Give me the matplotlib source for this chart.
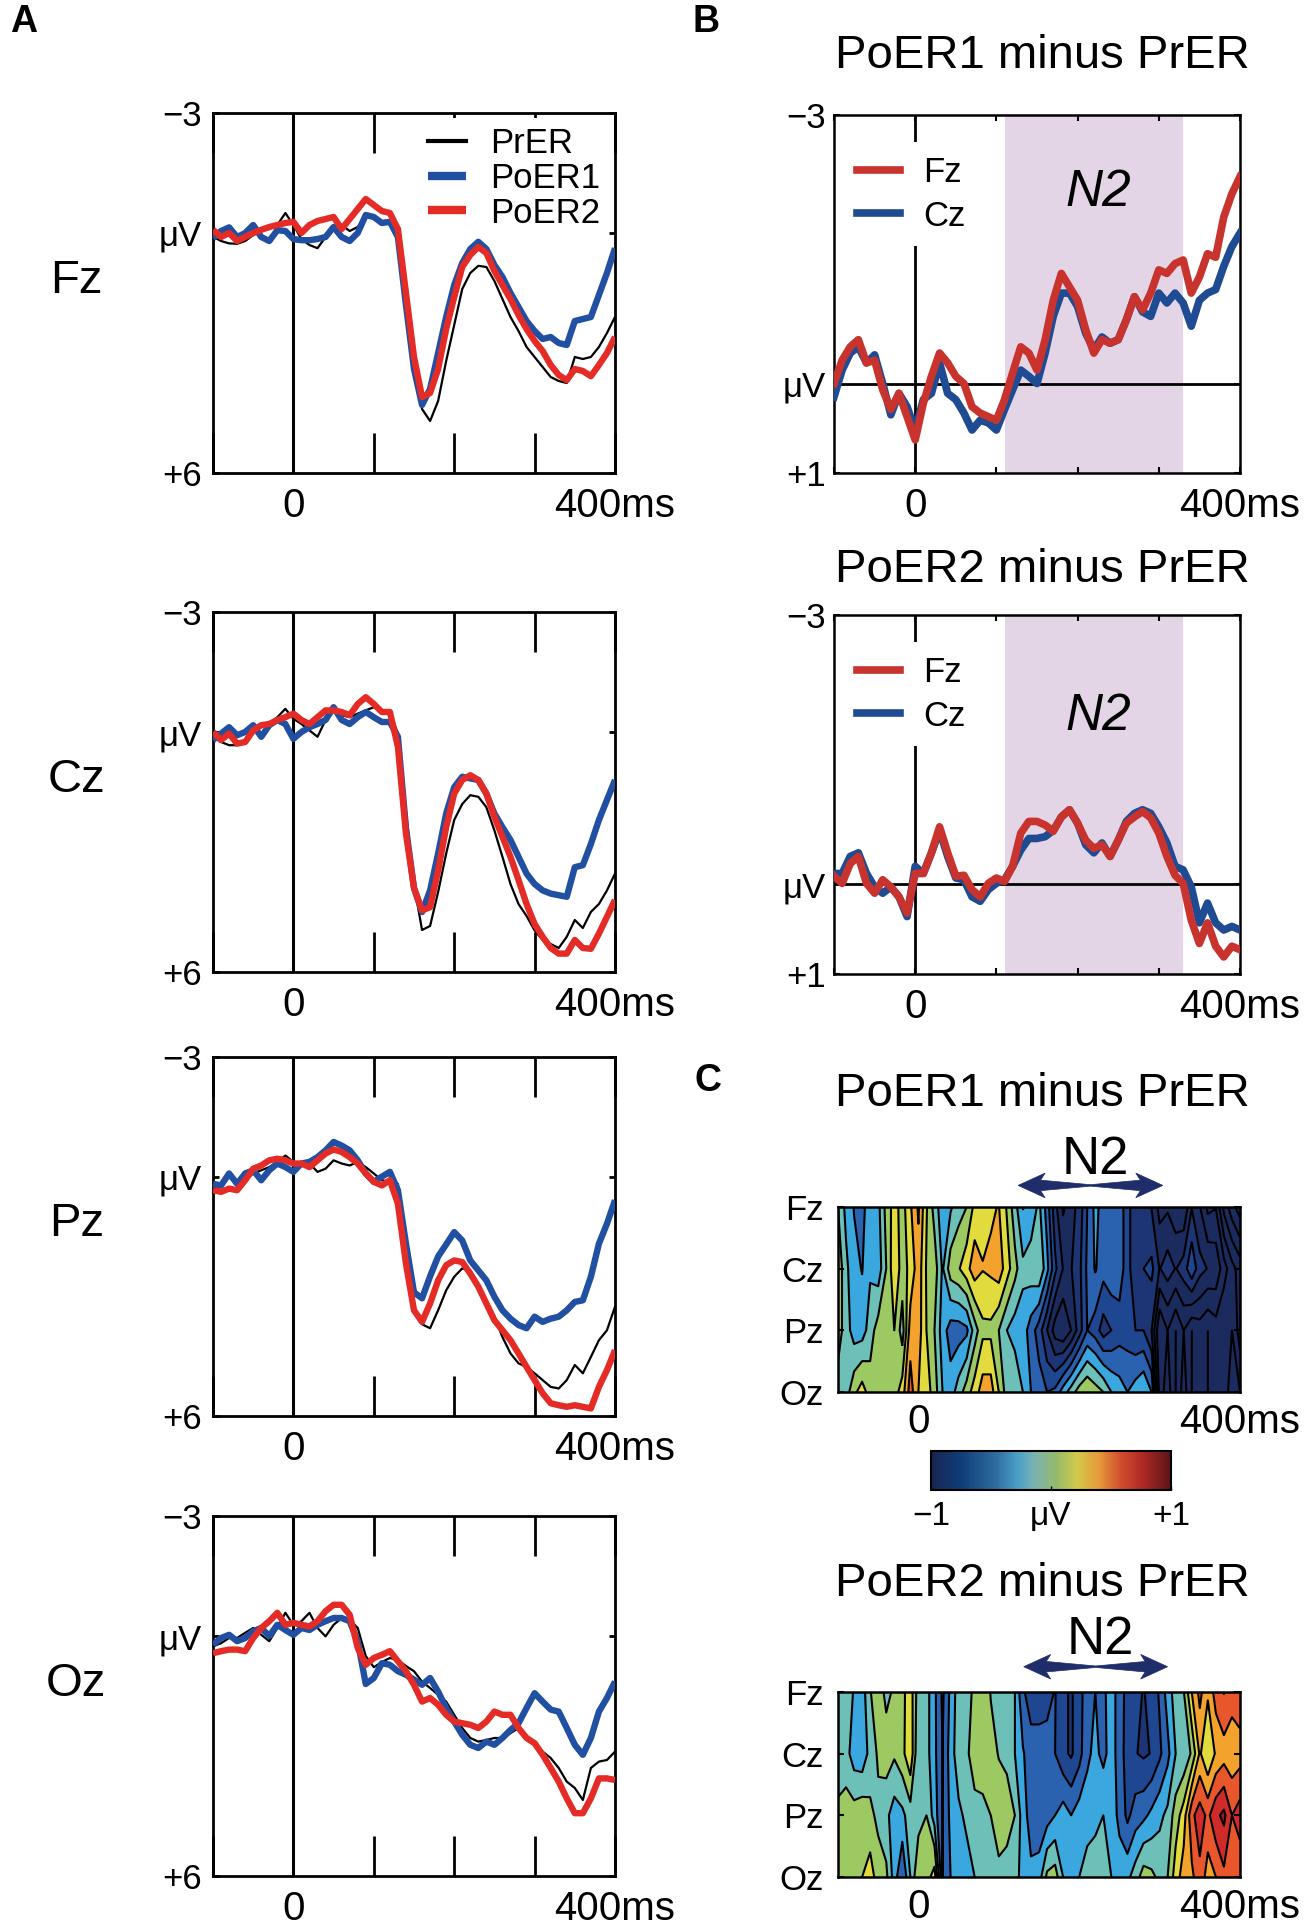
import numpy as np
import matplotlib
matplotlib.use('Agg')
import matplotlib.pyplot as plt
from matplotlib.colors import ListedColormap, BoundaryNorm, LinearSegmentedColormap, Normalize
from matplotlib.cm import ScalarMappable
from matplotlib.patches import Polygon

plt.rcParams['font.family'] = ['Liberation Sans', 'DejaVu Sans']

# time axis, ms (one sample every 10 ms)
t = np.arange(-100, 401, 10)

# ---- panel A: grand averages (uV, negative up) ----
fz_prer = [0.09, 0.2, 0.26, 0.27, 0.2, 0.05, -0.05, -0.1, -0.2, -0.5,
           -0.2, 0.15, 0.3, 0.38, 0.1, -0.1, -0.2, -0.05, -0.15, -0.45,
           -0.4, -0.3, -0.3, 0.0, 1.6, 3.2, 4.4, 4.7, 4.2, 3.2,
           2.3, 1.4, 1.0, 0.82, 0.85, 1.2, 1.65, 2.1, 2.45, 2.85,
           3.1, 3.35, 3.6, 3.7, 3.75, 3.1, 3.15, 3.1, 2.85, 2.5, 2.1]
fz_poer1 = [0.13, -0.05, -0.14, 0.1, 0.0, -0.2, 0.1, 0.2, -0.07, -0.05,
            0.15, 0.18, 0.18, 0.15, 0.1, -0.15, 0.1, 0.2, 0.0, -0.45,
            -0.4, -0.25, -0.28, 0.1, 1.8, 3.4, 4.3, 3.9, 3.0, 2.1,
            1.3, 0.75, 0.4, 0.22, 0.4, 0.8, 1.1, 1.5, 1.85, 2.2,
            2.45, 2.65, 2.6, 2.75, 2.8, 2.2, 2.15, 2.1, 1.55, 1.0, 0.38]
fz_poer2 = [-0.08, 0.1, 0.0, 0.2, 0.1, 0.0, -0.08, -0.15, -0.2, -0.25,
            -0.28, 0.0, -0.2, -0.3, -0.35, -0.4, -0.1, -0.35, -0.6, -0.85,
            -0.7, -0.55, -0.5, -0.1, 1.5, 3.1, 4.1, 4.0, 3.4, 2.4,
            1.6, 0.85, 0.55, 0.35, 0.5, 0.95, 1.3, 1.65, 2.05, 2.4,
            2.7, 2.95, 3.3, 3.55, 3.68, 3.4, 3.45, 3.58, 3.3, 3.0, 2.6]

cz_prer = [0.12, 0.25, 0.33, 0.33, 0.2, -0.04, -0.12, -0.2, -0.37, -0.58,
           -0.33, -0.2, -0.04, 0.12, -0.3, -0.62, -0.42, -0.37, -0.46, -0.54,
           -0.62, -0.5, -0.5, 0.04, 2.0, 3.8, 4.95, 4.85, 4.0, 3.04,
           2.2, 1.8, 1.58, 1.62, 1.88, 2.46, 3.12, 3.8, 4.3, 4.6,
           4.96, 5.2, 5.3, 5.4, 5.12, 4.7, 4.9, 4.5, 4.3, 3.96, 3.54]
cz_poer1 = [0.2, 0.04, -0.12, 0.08, 0.0, -0.17, 0.12, -0.17, -0.3, -0.2,
            0.17, 0.0, -0.12, -0.2, -0.3, -0.62, -0.3, -0.2, -0.37, -0.5,
            -0.37, -0.25, -0.25, 0.12, 2.4, 3.9, 4.5, 3.96, 3.04, 2.04,
            1.38, 1.12, 1.16, 1.2, 1.54, 2.04, 2.38, 2.7, 3.12, 3.54,
            3.8, 3.96, 4.04, 4.08, 4.12, 3.38, 3.33, 2.8, 2.2, 1.7, 1.2]
cz_poer2 = [0.0, 0.2, 0.04, 0.29, 0.25, -0.04, -0.17, -0.2, -0.3, -0.37,
            -0.46, -0.3, -0.2, -0.37, -0.54, -0.54, -0.5, -0.42, -0.7, -0.87,
            -0.7, -0.5, -0.5, 0.37, 2.54, 3.9, 4.46, 4.38, 3.46, 2.38,
            1.54, 1.2, 1.08, 1.2, 1.54, 2.12, 2.62, 3.12, 3.7, 4.3,
            4.8, 5.12, 5.4, 5.54, 5.54, 5.2, 5.4, 5.42, 5.04, 4.62, 4.2]

pz_prer = [0.26, 0.34, 0.34, 0.3, 0.09, -0.08, -0.16, -0.24, -0.37, -0.53,
           -0.37, -0.33, -0.33, -0.12, -0.2, -0.41, -0.33, -0.28, -0.37, -0.24,
           -0.08, 0.09, 0.13, 0.18, 1.68, 3.35, 3.7, 3.8, 3.35, 2.85,
           2.51, 2.3, 2.35, 2.68, 3.1, 3.51, 4.02, 4.43, 4.68, 4.77,
           4.93, 5.1, 5.27, 5.31, 5.1, 4.72, 4.93, 4.52, 4.1, 3.85, 3.26]
pz_poer1 = [0.18, 0.22, -0.08, 0.18, -0.08, -0.16, 0.09, -0.16, -0.33, -0.24,
            -0.12, -0.33, -0.37, -0.49, -0.66, -0.87, -0.78, -0.66, -0.41, -0.08,
            0.13, 0.0, -0.12, 0.34, 1.68, 2.9, 3.05, 2.5, 2.0, 1.7,
            1.39, 1.6, 2.1, 2.35, 2.6, 3.01, 3.35, 3.56, 3.72, 3.8,
            3.51, 3.64, 3.56, 3.51, 3.35, 3.14, 3.1, 2.51, 1.68, 1.18, 0.59]
pz_poer2 = [0.34, 0.38, 0.3, 0.34, 0.09, -0.2, -0.28, -0.41, -0.45, -0.41,
            -0.33, -0.33, -0.24, -0.41, -0.58, -0.68, -0.62, -0.49, -0.33, -0.08,
            0.13, 0.22, 0.09, 0.68, 2.18, 3.35, 3.64, 3.18, 2.6, 2.22,
            2.1, 2.14, 2.43, 2.76, 3.18, 3.6, 3.85, 4.1, 4.43, 4.77,
            5.1, 5.43, 5.68, 5.73, 5.77, 5.73, 5.77, 5.81, 5.27, 4.85, 4.35]

oz_prer = [0.26, 0.18, 0.05, 0.05, -0.08, -0.2, -0.03, 0.13, -0.2, -0.58,
           -0.28, -0.37, -0.58, -0.2, 0.01, -0.28, -0.45, -0.41, -0.2, 0.5,
           0.78, 0.65, 0.55, 0.6, 0.75, 0.88, 1.14, 1.3, 1.47, 1.64,
           1.97, 2.3, 2.55, 2.64, 2.6, 2.55, 2.55, 2.43, 2.3, 2.55,
           2.72, 2.89, 3.05, 3.3, 3.64, 3.8, 4.1, 3.3, 3.14, 3.1, 2.89]
oz_poer1 = [0.22, 0.05, -0.03, 0.13, 0.05, -0.12, -0.2, 0.0, -0.28, -0.15,
            -0.03, -0.2, -0.15, -0.28, -0.37, -0.45, -0.45, -0.37, 0.13, 1.2,
            1.05, 0.68, 0.72, 0.88, 0.97, 1.09, 1.22, 1.05, 1.39, 1.8,
            2.14, 2.47, 2.72, 2.8, 2.64, 2.72, 2.55, 2.35, 2.18, 1.8,
            1.43, 1.64, 1.84, 1.89, 2.3, 2.72, 2.97, 2.55, 1.89, 1.55, 1.14]
oz_poer2 = [0.43, 0.38, 0.34, 0.34, 0.38, 0.05, -0.2, -0.37, -0.58, -0.28,
            -0.33, -0.28, -0.24, -0.37, -0.62, -0.78, -0.78, -0.53, 0.3, 0.72,
            0.55, 0.47, 0.38, 0.63, 0.88, 1.22, 1.64, 1.55, 1.72, 1.97,
            2.14, 2.18, 2.22, 2.3, 2.14, 1.89, 1.97, 1.97, 2.3, 2.55,
            2.68, 2.97, 3.3, 3.64, 4.06, 4.43, 4.43, 4.06, 3.56, 3.56, 3.6]

# ---- panel B: difference waves ----
b1_fz = [0.0, -0.26, -0.41, -0.49, -0.23, -0.26, 0.07, 0.29, 0.11, 0.37,
         0.63, 0.22, -0.08, -0.34, -0.23, -0.08, 0.0, 0.26, 0.33, 0.37,
         0.41, 0.18, -0.12, -0.41, -0.34, -0.15, -0.49, -0.93, -1.23, -1.08,
         -0.93, -0.6, -0.34, -0.49, -0.45, -0.49, -0.71, -0.97, -0.82, -1.01,
         -1.27, -1.23, -1.34, -1.38, -1.01, -1.19, -1.45, -1.41, -1.86, -2.12, -2.31]
b1_cz = [0.15, -0.15, -0.34, -0.41, -0.23, -0.32, 0.0, 0.35, 0.11, 0.26,
         0.52, 0.18, 0.11, -0.23, 0.11, 0.18, 0.33, 0.52, 0.41, 0.44,
         0.52, 0.29, 0.07, -0.15, -0.08, 0.0, -0.34, -0.75, -1.01, -1.01,
         -0.86, -0.56, -0.38, -0.52, -0.45, -0.49, -0.71, -0.97, -0.8, -0.75,
         -1.01, -0.9, -1.01, -0.9, -0.64, -0.93, -1.01, -1.05, -1.31, -1.53, -1.68]
b2_fz = [-0.09, -0.01, -0.23, -0.31, -0.01, 0.1, -0.05, 0.03, 0.14, 0.32,
         -0.12, -0.12, -0.35, -0.64, -0.35, -0.09, -0.1, 0.06, 0.14, -0.01,
         -0.07, -0.03, -0.2, -0.57, -0.7, -0.7, -0.66, -0.59, -0.75, -0.83,
         -0.68, -0.49, -0.4, -0.44, -0.31, -0.49, -0.68, -0.75, -0.81, -0.74,
         -0.57, -0.31, -0.1, -0.01, 0.4, 0.66, 0.43, 0.69, 0.81, 0.69, 0.73]
b2_cz = [-0.12, -0.12, -0.31, -0.35, -0.12, 0.03, 0.1, 0.03, 0.14, 0.36,
         -0.2, -0.12, -0.35, -0.6, -0.31, -0.07, -0.05, 0.14, 0.19, 0.06,
         -0.01, -0.05, -0.2, -0.38, -0.51, -0.51, -0.53, -0.6, -0.75, -0.83,
         -0.68, -0.44, -0.35, -0.46, -0.31, -0.49, -0.7, -0.79, -0.83, -0.79,
         -0.64, -0.46, -0.2, -0.16, 0.03, 0.43, 0.21, 0.43, 0.51, 0.47, 0.51]
n2_window = (110, 330)

# ---- panel C: difference maps (Fz/Cz rows are the panel B waves) ----
c1_pz = [0.1, -0.1, -0.3, -0.3, -0.1, 0.1, 0.1, 0.2, -0.1, 0.5,
         0.5, 0.2, 0.0, -0.3, -0.5, -0.5, -0.45, -0.1, 0.15, 0.15,
         0.0, -0.2, -0.3, -0.3, -0.5, -0.7, -1.0, -1.3, -1.4, -1.2,
         -0.9, -0.6, -0.7, -0.9, -0.8, -0.7, -0.7, -0.8, -0.8, -1.0,
         -1.6, -1.4, -1.6, -1.4, -1.6, -1.5, -1.6, -1.5, -1.6, -1.4, -1.7]
c1_oz = [-0.1, -0.1, 0.15, 0.3, 0.1, 0.1, 0.05, 0.1, 0.3, 0.7,
         0.4, 0.3, 0.1, -0.2, -0.3, -0.1, 0.1, 0.3, 0.5, 0.5,
         0.2, -0.1, 0.0, -0.2, -0.4, -0.5, -0.6, -0.55, -0.3, -0.1,
         0.1, 0.2, 0.1, 0.0, -0.2, -0.3, -0.4, -0.3, -0.2, -0.4,
         -1.5, -1.3, -1.6, -1.3, -1.6, -1.4, -1.6, -1.4, -1.5, -1.3, -1.4]
c2_pz = [0.05, 0.1, 0.1, 0.15, 0.05, -0.05, -0.15, -0.3, -0.25, -0.1,
         -0.1, 0.0, -0.3, -0.6, -0.35, -0.25, -0.15, -0.1, -0.1, 0.0,
         0.1, 0.1, 0.0, -0.3, -0.5, -0.55, -0.5, -0.4, -0.3, -0.4,
         -0.3, -0.3, -0.25, -0.2, -0.3, -0.45, -0.65, -0.5, -0.45, -0.35,
         -0.25, -0.15, 0.1, 0.3, 0.75, 0.9, 0.75, 0.95, 1.05, 0.8, 0.9]
c2_oz = [0.1, 0.1, 0.1, 0.2, 0.3, 0.1, 0.05, -0.3, -0.6, -0.2,
         0.2, 0.1, 0.3, -0.6, -0.4, -0.3, -0.3, -0.2, -0.1, -0.15,
         -0.05, -0.1, -0.1, -0.3, -0.35, -0.3, 0.05, 0.1, -0.2, -0.3,
         -0.2, -0.1, -0.1, -0.1, -0.2, -0.3, -0.25, -0.1, 0.1, 0.05,
         -0.05, 0.0, 0.3, 0.5, 0.55, 0.75, 0.5, 0.6, 0.75, 0.6, 0.65]
electrodes = ['Oz', 'Pz', 'Cz', 'Fz']

blue_a, red_a = '#2150a2', '#e42b26'
blue_b, red_b = '#1f4b93', '#c9332d'
shade = '#e3d5e6'
navy = '#1f2d6b'
band_colors = ['#1d3574', '#1f4690', '#2a62b0', '#3aa7de', '#6dc0b7',
               '#9dc963', '#e2db3e', '#f4a22e', '#e8562b', '#cf2b2b']
band_cmap = ListedColormap(band_colors)
band_cmap.set_under('#1b2b5e')
band_cmap.set_over('#9b1c1c')
band_norm = BoundaryNorm(np.round(np.arange(-1, 1.01, 0.2), 2), 10)
levels = np.round(np.arange(-2.6, 1.61, 0.2), 2)
cbar_cmap = LinearSegmentedColormap.from_list('cb', [
    (0.0, '#1a2550'), (0.12, '#0e3c78'), (0.27, '#2f6c9f'), (0.36, '#4a9fc6'),
    (0.43, '#7bb2b2'), (0.52, '#94ba6c'), (0.61, '#d2c94a'), (0.7, '#e6993a'),
    (0.79, '#d0502c'), (0.88, '#b02a26'), (1.0, '#5c1418')])

W, H = 1305, 1928
fig = plt.figure(figsize=(W / 100, H / 100), dpi=100)


def rect(l, top, r, b):
    return [l / W, 1 - b / H, (r - l) / W, (b - top) / H]


def ftext(x, y, s, **kw):
    fig.text(x / W, 1 - y / H, s, **kw)


xlabels = ['', '0', '', '', '', '400ms']


def erp_panel(top, bottom, name, prer, poer1, poer2, legend=False):
    ax = fig.add_axes(rect(213, top, 615, bottom))
    ax.axvline(0, color='k', lw=2.2, zorder=1)
    ax.plot(t, prer, color='k', lw=1.6, label='PrER', zorder=3)
    ax.plot(t, poer1, color=blue_a, lw=4.6, label='PoER1', zorder=3,
            solid_joinstyle='round', solid_capstyle='butt')
    ax.plot(t, poer2, color=red_a, lw=4.6, label='PoER2', zorder=3,
            solid_joinstyle='round', solid_capstyle='butt')
    ax.set_xlim(-100, 400)
    ax.set_ylim(6, -3)
    ax.set_xticks([-100, 0, 100, 200, 300, 400])
    ax.set_xticklabels(xlabels)
    ax.set_yticks([-3, 0, 6])
    ax.set_yticklabels(['\u22123', '\u03bcV', '+6'])
    ax.tick_params(axis='x', direction='in', length=29, width=2, top=True,
                   labelsize=29, pad=10)
    ax.tick_params(axis='y', direction='in', length=4, width=2, right=True,
                   labelsize=25, pad=8)
    for s in ax.spines.values():
        s.set_linewidth(2)
    ax.text(-0.34, 0.534, name, transform=ax.transAxes, fontsize=34,
            ha='center', va='center')
    if legend:
        leg = ax.legend(loc='upper left', bbox_to_anchor=(0.512, 0.985),
                        fontsize=25, handlelength=1.1, handletextpad=0.7,
                        labelspacing=0.05, borderpad=0.25, borderaxespad=0,
                        fancybox=False, framealpha=1, facecolor='white',
                        edgecolor='none')
        leg.set_zorder(5)
        leg.get_lines()[0].set_linewidth(3)
        for ln in leg.get_lines()[1:]:
            ln.set_linewidth(6)
    return ax


def diff_panel(top, bottom, fz, cz, n2_y):
    ax = fig.add_axes(rect(834, top, 1240, bottom))
    ax.axvspan(*n2_window, color=shade, lw=0, zorder=0)
    ax.axhline(0, color='k', lw=2, zorder=1)
    ax.axvline(0, color='k', lw=2, zorder=1)
    l_cz, = ax.plot(t, cz, color=blue_b, lw=5.5, zorder=3, solid_joinstyle='round')
    l_fz, = ax.plot(t, fz, color=red_b, lw=5.5, zorder=4, solid_joinstyle='round')
    ax.set_xlim(-100, 400)
    ax.set_ylim(1, -3)
    ax.set_xticks([-100, 0, 100, 200, 300, 400])
    ax.set_xticklabels(xlabels)
    ax.set_yticks([-3, 0, 1])
    ax.set_yticklabels(['\u22123', '\u03bcV', '+1'])
    ax.tick_params(axis='x', direction='in', length=4, width=1.5, top=True,
                   labelsize=29, pad=10)
    ax.tick_params(axis='y', direction='in', length=4, width=1.5, right=True,
                   labelsize=25, pad=6)
    for s in ax.spines.values():
        s.set_linewidth(1.8)
    ax.text(225, n2_y, 'N2', style='italic', fontsize=37, ha='center', va='center')
    leg = ax.legend([l_fz, l_cz], ['Fz', 'Cz'], loc='upper left',
                    bbox_to_anchor=(0.022, 0.924), fontsize=25, handlelength=1.25,
                    handletextpad=0.66, labelspacing=0.3, borderaxespad=0,
                    fancybox=False, framealpha=1, facecolor='white', edgecolor='none')
    leg.set_zorder(5)
    return ax


def bowtie(ax, x0, x1, y):
    # double arrow, thin in the middle, widening towards both heads
    mid = (x0 + x1) / 2
    hl, hw, tw, mw = 28, 0.2, 0.085, 0.012
    right = [(mid, y + mw), (x1 - hl, y + tw), (x1 - hl * 1.2, y + hw), (x1, y),
             (x1 - hl * 1.2, y - hw), (x1 - hl, y - tw), (mid, y - mw)]
    left = [(mid, y - mw), (x0 + hl, y - tw), (x0 + hl * 1.2, y - hw), (x0, y),
            (x0 + hl * 1.2, y + hw), (x0 + hl, y + tw)]
    ax.add_patch(Polygon(right + left, closed=True, facecolor=navy,
                         edgecolor=navy, lw=0.5, clip_on=False))


def topo_panel(top, bottom, rows, n2_y, arrow_y, arrow_x):
    ax = fig.add_axes(rect(838, top, 1240, bottom))
    z = np.array(rows)
    yy = np.arange(len(rows))
    ax.contourf(t, yy, z, levels=levels, cmap=band_cmap, norm=band_norm, extend='both')
    ax.contour(t, yy, z, levels=levels, colors='k', linewidths=1.5,
               negative_linestyles='solid')
    ax.set_xlim(-100, 400)
    ax.set_ylim(0, 3)
    ax.set_xticks([0, 400])
    ax.set_xticklabels(['0', '400ms'])
    ax.set_yticks(yy)
    ax.set_yticklabels(electrodes)
    ax.tick_params(axis='x', length=0, labelsize=29, pad=8)
    ax.tick_params(axis='y', direction='in', length=4, width=1.5, right=True,
                   labelsize=25, pad=10)
    for s in ax.spines.values():
        s.set_linewidth(1.8)
        s.set_zorder(4)
    ax.text(sum(arrow_x) / 2 + 6, n2_y, 'N2', fontsize=38, ha='center', va='center')
    bowtie(ax, arrow_x[0], arrow_x[1], arrow_y)
    return ax


# panel A
erp_panel(113, 473, 'Fz', fz_prer, fz_poer1, fz_poer2, legend=True)
erp_panel(612, 972, 'Cz', cz_prer, cz_poer1, cz_poer2)
erp_panel(1057, 1416, 'Pz', pz_prer, pz_poer1, pz_poer2)
erp_panel(1516, 1876, 'Oz', oz_prer, oz_poer1, oz_poer2)

# panel B
diff_panel(115, 473, b1_fz, b1_cz, -2.13)
diff_panel(615, 974, b2_fz, b2_cz, -1.87)

# panel C
topo_panel(1207, 1392, [c1_oz, c1_pz, b1_cz, b1_fz], 3.77, 3.35, (124, 304))
topo_panel(1692, 1877, [c2_oz, c2_pz, b2_cz, b2_fz], 3.84, 3.41, (131, 310))

cax = fig.add_axes(rect(931, 1451, 1171, 1490))
cb = fig.colorbar(ScalarMappable(Normalize(-1, 1), cbar_cmap), cax=cax,
                  orientation='horizontal', ticks=[-1, 0, 1])
cb.ax.set_xticklabels(['\u22121', '\u03bcV', '+1'])
cb.ax.tick_params(length=3, direction='in', width=1, labelsize=24, pad=8)
cb.outline.set_linewidth(1.5)

# titles and panel letters
for y, s in [(56, 'PoER1 minus PrER'), (570, 'PoER2 minus PrER'),
             (1094, 'PoER1 minus PrER'), (1584, 'PoER2 minus PrER')]:
    ftext(1042, y, s, fontsize=34, ha='center', va='center')
for x, y, s in [(10, 22, 'A'), (693, 22, 'B'), (694, 1081, 'C')]:
    ftext(x, y, s, fontsize=27, fontweight='bold', ha='left', va='center')

fig.savefig('out.png', dpi=100, facecolor='white')
